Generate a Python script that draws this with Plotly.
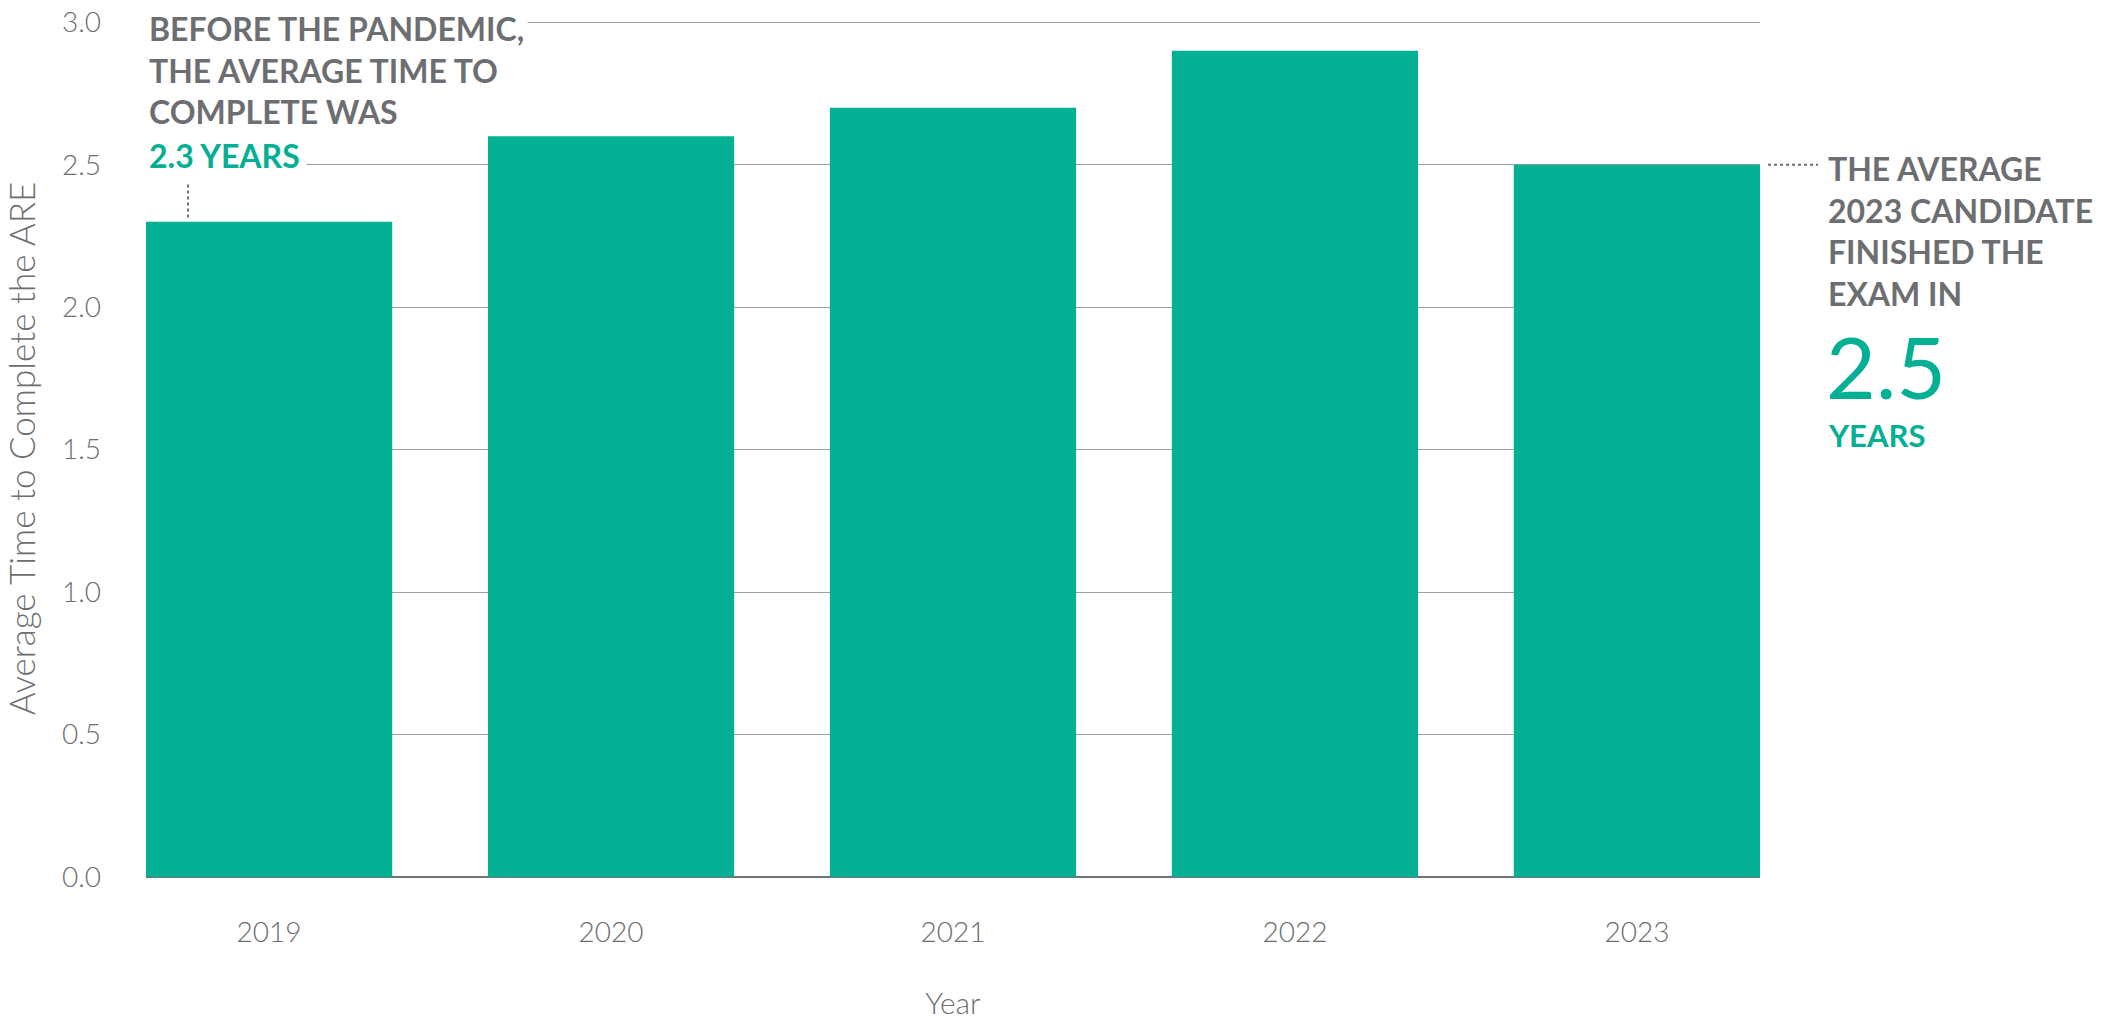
import plotly.graph_objects as go

# data
years = ["2019", "2020", "2021", "2022", "2023"]
avg_years = [2.3, 2.6, 2.7, 2.9, 2.5]
y_ticks = [0.0, 0.5, 1.0, 1.5, 2.0, 2.5, 3.0]

TEAL = "#03b093"
GRAY = "#6d6e71"
GRID = "#9d9fa2"

W, H = 2119, 1020
L, R, T, B = 146, 359, 20, 143
PW, PH = W - L - R, H - T - B
YMAX = 3.008  # a hair above 3 so the top grid line is still drawn


def px(p):
    # page pixel -> paper x
    return (p - L) / PW


def py(p):
    # page pixel -> paper y
    return (H - B - p) / PH


fig = go.Figure()

fig.add_trace(go.Bar(
    x=years,
    y=avg_years,
    marker=dict(color=TEAL, line=dict(width=0)),
    hoverinfo="x+y",
))

fig.update_layout(
    width=W,
    height=H,
    margin=dict(l=L, r=R, t=T, b=B, autoexpand=False),
    plot_bgcolor="white",
    paper_bgcolor="white",
    showlegend=False,
    bargap=0.28,
    font=dict(family="Lato, Roboto, sans-serif", color=GRAY),
)

fig.update_xaxes(
    range=[-0.36, 4.36],
    showgrid=False,
    showline=False,
    ticks="",
    automargin=False,
    ticklabelstandoff=36,
    tickfont=dict(size=28, color=GRAY, weight=300),
    title=dict(text="Year", font=dict(size=30, color=GRAY, weight=300), standoff=48),
)

fig.update_yaxes(
    range=[0, YMAX],
    tickvals=y_ticks,
    tickformat=".1f",
    showgrid=True,
    gridcolor=GRID,
    gridwidth=1,
    zeroline=True,
    zerolinecolor="#707274",
    zerolinewidth=2,
    showline=False,
    ticks="",
    automargin=False,
    ticklabeloverflow="allow",
    ticklabelstandoff=44,
    tickfont=dict(size=28, color=GRAY, weight=300),
    title=dict(text="Average Time to Complete the ARE",
               font=dict(size=35, color=GRAY, weight=300), standoff=34),
)

# left call-out (white boxes hide the grid lines behind the text)
fig.add_annotation(
    xref="paper", yref="paper", x=px(145), y=py(5),
    xanchor="left", yanchor="top", align="left", showarrow=False,
    text="BEFORE THE PANDEMIC,<br>THE AVERAGE TIME TO<br>COMPLETE WAS",
    font=dict(size=32, color=GRAY, weight="bold"),
    bgcolor="white", borderpad=3,
)
fig.add_annotation(
    xref="paper", yref="paper", x=px(142), y=py(129),
    xanchor="left", yanchor="top", align="left", showarrow=False,
    text=f"{avg_years[0]} YEARS",
    font=dict(size=32, color=TEAL, weight="bold"),
    bgcolor="white", borderpad=6,
)
fig.add_shape(
    type="line", xref="x", yref="y",
    x0=-0.237, x1=-0.237, y0=avg_years[0] + 0.015, y1=avg_years[0] + 0.14,
    line=dict(color=GRAY, width=2, dash="dot"),
)

# right call-out
fig.add_shape(
    type="line", xref="paper", yref="paper",
    x0=px(1768), x1=px(1818), y0=avg_years[-1] / YMAX, y1=avg_years[-1] / YMAX,
    line=dict(color=GRAY, width=2, dash="dot"),
)
fig.add_annotation(
    xref="paper", yref="paper", x=px(1826), y=py(147),
    xanchor="left", yanchor="top", align="left", showarrow=False,
    text="THE AVERAGE<br>2023 CANDIDATE<br>FINISHED THE<br>EXAM IN",
    font=dict(size=32, color=GRAY, weight="bold"),
)
fig.add_annotation(
    xref="paper", yref="paper", x=px(1824), y=py(312),
    xanchor="left", yanchor="top", align="left", showarrow=False,
    text=f"{avg_years[-1]}",
    font=dict(size=86, color=TEAL),
)
fig.add_annotation(
    xref="paper", yref="paper", x=px(1826), y=py(414),
    xanchor="left", yanchor="top", align="left", showarrow=False,
    text="YEARS",
    font=dict(size=31, color=TEAL, weight="bold"),
)

# drop the default 8px page margin so the figure fills the window exactly
fig.write_html(
    "out.html",
    config={"displayModeBar": False},
    post_script="document.body.style.margin = '0';",
)
